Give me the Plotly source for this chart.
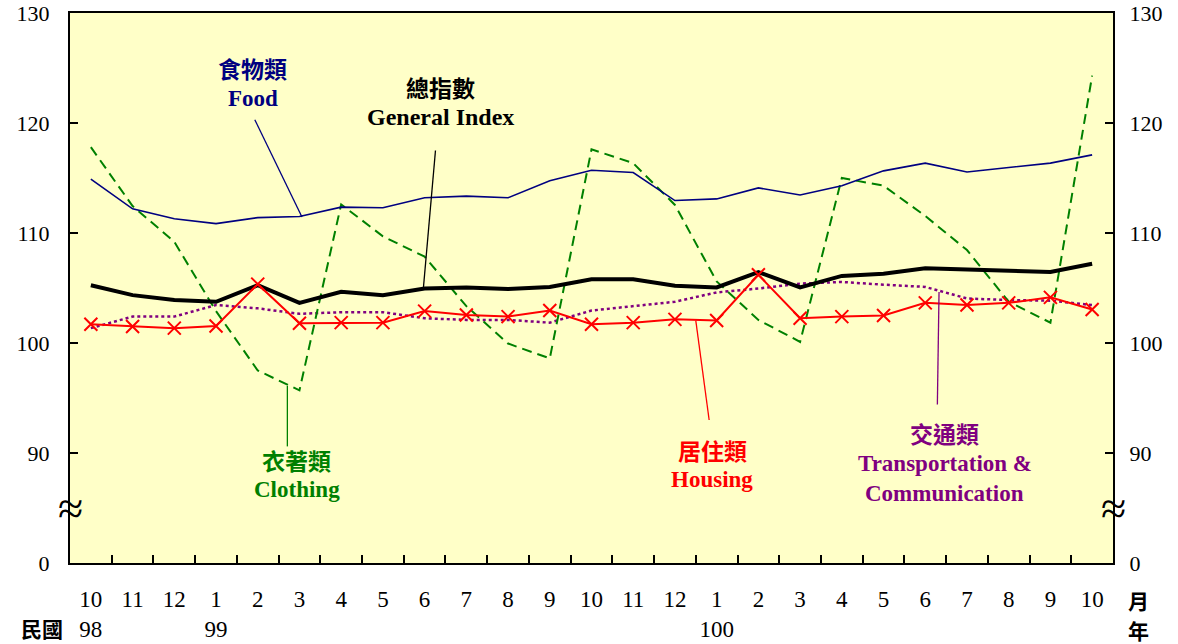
import plotly.graph_objects as go

months = ["10", "11", "12", "1", "2", "3", "4", "5", "6", "7", "8", "9",
          "10", "11", "12", "1", "2", "3", "4", "5", "6", "7", "8", "9", "10"]
years = ["98", "", "", "99", "", "", "", "", "", "", "", "",
         "", "", "", "100", "", "", "", "", "", "", "", "", ""]
cats = [f"c{i}" for i in range(len(months))]

food = [114.9, 112.2, 111.3, 110.85, 111.4, 111.5, 112.35, 112.3, 113.2, 113.35, 113.2, 114.75,
        115.7, 115.5, 112.95, 113.1, 114.1, 113.45, 114.3, 115.65, 116.35, 115.55, 115.95, 116.35, 117.1]
general = [105.25, 104.35, 103.9, 103.75, 105.25, 103.65, 104.65, 104.35, 104.95, 105.05, 104.9, 105.1,
           105.8, 105.8, 105.2, 105.05, 106.45, 105.05, 106.1, 106.3, 106.8, 106.7, 106.55, 106.45, 107.2]
clothing = [117.8, 112.45, 109.2, 102.9, 97.5, 95.7, 112.6, 109.7, 107.85, 103.35, 99.95, 98.6,
            117.6, 116.35, 112.55, 105.6, 102.1, 100.1, 115.0, 114.3, 111.55, 108.45, 103.75, 101.85, 124.3]
housing = [101.7, 101.5, 101.35, 101.55, 105.35, 101.8, 101.85, 101.85, 102.9, 102.55, 102.4, 102.95,
           101.7, 101.85, 102.15, 102.05, 106.2, 102.25, 102.4, 102.5, 103.65, 103.45, 103.65, 104.15, 103.05]
transport = [101.35, 102.4, 102.4, 103.45, 103.15, 102.65, 102.8, 102.8, 102.25, 102.1, 102.1, 101.85,
             102.95, 103.35, 103.75, 104.6, 104.95, 105.4, 105.55, 105.3, 105.1, 104.05, 103.9, 103.85, 103.45]

y_ticks = [80, 90, 100, 110, 120, 130]
y_ticktext = ["0", "90", "100", "110", "120", "130"]

SERIF = "Liberation Serif, Times New Roman, serif"
CJK = "Noto Sans CJK TC"

fig = go.Figure()
fig.add_trace(go.Scatter(x=cats, y=transport, mode="lines",
                         line=dict(color="#800080", width=2.5, dash="dot")))
fig.add_trace(go.Scatter(x=cats, y=clothing, mode="lines",
                         line=dict(color="#008000", width=2, dash="10px,6px")))
fig.add_trace(go.Scatter(x=cats, y=food, mode="lines",
                         line=dict(color="#000080", width=1.6)))
fig.add_trace(go.Scatter(x=cats, y=general, mode="lines",
                         line=dict(color="#000000", width=4)))
fig.add_trace(go.Scatter(x=cats, y=housing, mode="lines+markers",
                         line=dict(color="#FF0000", width=2),
                         marker=dict(symbol="x-thin", size=13, line=dict(color="#FF0000", width=2))))
# invisible trace to anchor right axis
fig.add_trace(go.Scatter(x=cats, y=general, yaxis="y2", mode="lines",
                         line=dict(width=0), opacity=0, hoverinfo="skip"))

ticktext = [m if not y else f"{m}<br>{y}" for m, y in zip(months, years)]

fig.update_layout(
    width=1178, height=644,
    margin=dict(l=70, r=65, t=13, b=81, autoexpand=False),
    paper_bgcolor="white",
    plot_bgcolor="#FFFFC8",
    showlegend=False,
    font=dict(family=SERIF, color="black"),
    xaxis=dict(type="category", categoryorder="array", categoryarray=cats,
               tickmode="array", tickvals=cats, ticktext=ticktext, tickangle=0,
               tickson="boundaries", ticks="inside", ticklen=8, tickwidth=1.5, tickcolor="black",
               showline=True, linecolor="black", linewidth=2, mirror=True,
               showgrid=False, zeroline=False, automargin=False,
               tickfont=dict(family=SERIF, size=23, color="black"),
               ticklabelstandoff=14, range=[-0.5, 24.5]),
    yaxis=dict(range=[80, 130], tickmode="array", tickvals=y_ticks, ticktext=y_ticktext,
               ticks="inside", ticklen=8, tickwidth=1.5, tickcolor="black",
               showline=True, linecolor="black", linewidth=2, mirror=True,
               showgrid=False, zeroline=False, automargin=False,
               tickfont=dict(family=SERIF, size=22, color="black"),
               ticklabelstandoff=14),
    yaxis2=dict(range=[80, 130], overlaying="y", side="right", tickmode="array",
                tickvals=y_ticks, ticktext=y_ticktext,
                ticks="inside", ticklen=8, tickwidth=1.5, tickcolor="black",
                showline=True, linecolor="black", linewidth=2,
                showgrid=False, zeroline=False, automargin=False,
                tickfont=dict(family=SERIF, size=22, color="black"),
                ticklabelstandoff=10),
)

# leader lines
leaders = [
    (3.93, 120.3, 5.06, 111.45, "#000080", 1.3),
    (8.26, 117.5, 7.97, 104.97, "#000000", 1.3),
    (4.71, 96.1, 4.71, 90.6, "#008000", 1.3),
    (14.5, 102.03, 14.82, 93.0, "#FF0000", 1.3),
    (20.33, 104.64, 20.29, 94.4, "#800080", 1.3),
]
for x0, y0, x1, y1, c, w in leaders:
    fig.add_shape(type="line", xref="x", yref="y", x0=x0, y0=y0, x1=x1, y1=y1,
                  line=dict(color=c, width=w))

def label(x, y, text, color, size, family):
    fig.add_annotation(x=x, y=y, xref="x", yref="y", text=f"<b>{text}</b>", showarrow=False,
                       font=dict(family=family, size=size, color=color),
                       xanchor="center", yanchor="middle")

label(3.88, 125.0, "食物類", "#000080", 23, CJK)
label(3.88, 122.27, "Food", "#000080", 23, SERIF)
label(8.37, 123.27, "總指數", "#000000", 23, CJK)
label(8.37, 120.55, "General Index", "#000000", 24, SERIF)
label(4.94, 89.36, "衣著類", "#008000", 23, CJK)
label(4.94, 86.64, "Clothing", "#008000", 23, SERIF)
label(14.89, 90.27, "居住類", "#FF0000", 23, CJK)
label(14.89, 87.55, "Housing", "#FF0000", 23, SERIF)
label(20.47, 91.82, "交通類", "#800080", 23, CJK)
label(20.47, 89.09, "Transportation &amp;", "#800080", 23, SERIF)
label(20.47, 86.36, "Communication", "#800080", 23, SERIF)

# axis break symbols
for xp in (0, 1):
    fig.add_annotation(x=xp, y=85, xref="paper", yref="y", text="≈", showarrow=False,
                       font=dict(family=SERIF, size=46, color="black"),
                       xanchor="center", yanchor="middle")

# unit labels
fig.add_annotation(x=-0.027, y=-0.118, xref="paper", yref="paper", text="<b>民國</b>",
                   showarrow=False, font=dict(family=CJK, size=21, color="black"),
                   xanchor="center", yanchor="middle")
fig.add_annotation(x=1.024, y=-0.067, xref="paper", yref="paper", text="<b>月</b>",
                   showarrow=False, font=dict(family=CJK, size=21, color="black"),
                   xanchor="center", yanchor="middle")
fig.add_annotation(x=1.024, y=-0.122, xref="paper", yref="paper", text="<b>年</b>",
                   showarrow=False, font=dict(family=CJK, size=21, color="black"),
                   xanchor="center", yanchor="middle")

# remove the browser's default 8px body margin so the figure sits at the page corner
fig.write_html("out.html",
               config={"displayModeBar": False},
               post_script="document.body.style.margin='0px';document.body.style.overflow='hidden';")
